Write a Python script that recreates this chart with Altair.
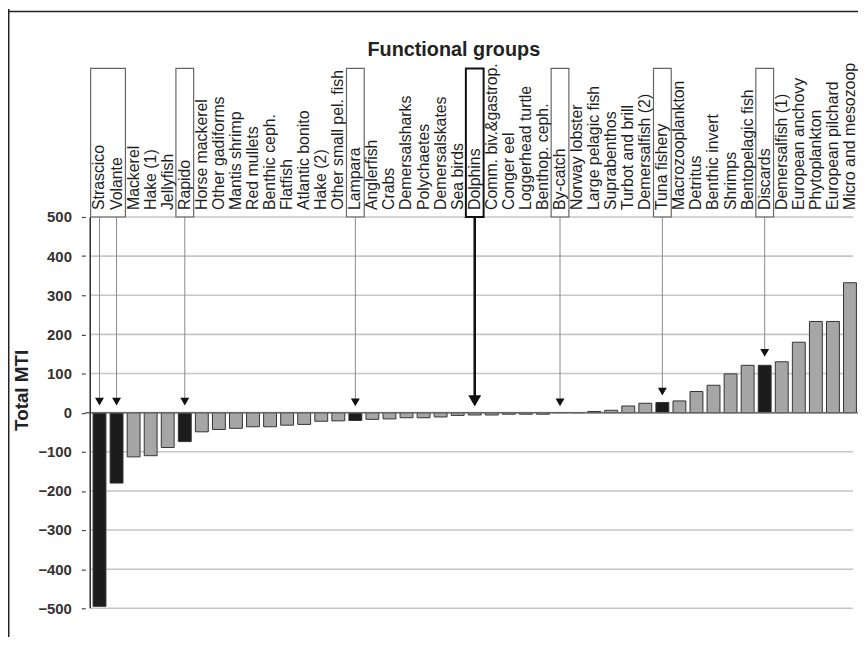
import altair as alt
import pandas as pd

groups = ["Strascico", "Volante", "Mackerel", "Hake (1)", "Jellyfish", "Rapido",
          "Horse mackerel", "Other gadiforms", "Mantis shrimp", "Red mullets",
          "Benthic ceph.", "Flatfish", "Atlantic bonito", "Hake (2)",
          "Other small pel. fish", "Lampara", "Anglerfish", "Crabs",
          "Demersalsharks", "Polychaetes", "Demersalskates", "Sea birds",
          "Dolphins", "Comm. biv.&gastrop.", "Conger eel", "Loggerhead turtle",
          "Benthop. ceph.", "By-catch", "Norway lobster", "Large pelagic fish",
          "Suprabenthos", "Turbot and brill", "Demersalfish (2)", "Tuna fishery",
          "Macrozooplankton", "Detritus", "Benthic invert", "Shrimps",
          "Bentopelagic fish", "Discards", "Demersalfish (1)", "European anchovy",
          "Phytoplankton", "European pilchard", "Micro and mesozoop"]
mti = [-495, -180, -113, -110, -89, -74, -49, -43, -40, -36, -36, -32, -30, -22,
       -21, -20, -17, -16, -13, -13, -11, -7, -6, -6, -4, -4, -4, 0, 0, 3, 6, 17,
       24, 26, 30, 54, 70, 99, 121, 121, 130, 180, 233, 233, 332]
fleets = ["Strascico", "Volante", "Rapido", "Lampara", "Tuna fishery", "Discards"]
boxes = [("Strascico", "Volante"), ("Rapido", "Rapido"), ("Lampara", "Lampara"),
         ("Dolphins", "Dolphins"), ("By-catch", "By-catch"),
         ("Tuna fishery", "Tuna fishery"), ("Discards", "Discards")]
bold_box = "Dolphins"
arrows = ["Strascico", "Volante", "Rapido", "Lampara", "Dolphins", "By-catch",
          "Tuna fishery", "Discards"]
arrow_tip = [28, 28, 28, 26, 30, 26, 54, 153]
y_ticks = [-500, -400, -300, -200, -100, 0, 100, 200, 300, 400, 500]

X_MIN, X_MAX = 0.456, 45.18
idx = {g: i + 1 for i, g in enumerate(groups)}
df = pd.DataFrame({"group": groups, "idx": [idx[g] for g in groups], "mti": mti,
                   "kind": ["fleet" if g in fleets else "group" for g in groups]})
box_df = pd.DataFrame({
    "x0": [idx[a] - 0.52 for a, b in boxes],
    "x1": [idx[b] + 0.52 for a, b in boxes],
    "w": [2.0 if a == bold_box else 1.2 for a, b in boxes],
    "c": ["#111111" if a == bold_box else "#666666" for a, b in boxes],
})
arr_df = pd.DataFrame({"idx": [idx[g] for g in arrows],
                       "w": [2.6 if g == bold_box else 1.0 for g in arrows],
                       "c": ["#111111" if g == bold_box else "#8a8a8a" for g in arrows],
                       "s": [170 if g == bold_box else 81 for g in arrows],
                       "top": 500, "tip": arrow_tip})
zero_df = pd.DataFrame({"z": [0]})
# thin bands for the gridlines (half-thickness ~0.9 px in data units)
grid_df = pd.DataFrame({"t": y_ticks})
grid_df["lo"] = grid_df["t"] - 2.0
grid_df["hi"] = grid_df["t"] + 2.0
grid_df["xa"] = X_MIN
grid_df["xb"] = X_MAX
axis_df = pd.DataFrame({"y0": [min(y_ticks)], "y1": [max(y_ticks)],
                        "xa": [X_MIN - 0.045], "xb": [X_MIN + 0.045]})

FONT = "Liberation Sans"
xs = alt.Scale(domain=[X_MIN, X_MAX], nice=False, zero=False)
ys = alt.Scale(domain=[-500, 500], nice=False)
X = alt.X("idx:Q", scale=xs, axis=None)
YAX = alt.Axis(values=y_ticks, grid=False, domain=False,
               tickSize=4, tickColor="#444", tickWidth=1.2,
               labelFont=FONT, labelFontSize=15, labelFontWeight="bold",
               labelColor="#333", labelPadding=10, title=None)

grid = alt.Chart(grid_df).mark_rect(color="#c6c6c6").encode(
    x=alt.X("xa:Q", scale=xs, axis=None),
    x2="xb:Q",
    y=alt.Y("lo:Q", scale=ys, axis=YAX),
    y2="hi:Q",
)

bars = alt.Chart(df).mark_bar(size=13, clip=True, orient="vertical").encode(
    x=X,
    y=alt.Y("mti:Q", scale=ys, axis=YAX),
    color=alt.Color("kind:N", scale=alt.Scale(domain=["fleet", "group"],
                                              range=["#1c1c1c", "#a6a6a6"]),
                    legend=None),
    stroke=alt.value("#333"),
    strokeWidth=alt.value(1),
)

zero = alt.Chart(zero_df).mark_rule(color="#666", strokeWidth=1.5).encode(
    y=alt.Y("z:Q", scale=ys, axis=YAX))

yline = alt.Chart(axis_df).mark_rect(color="#333").encode(
    x=alt.X("xa:Q", scale=xs, axis=None),
    x2="xb:Q",
    y=alt.Y("y0:Q", scale=ys, axis=YAX),
    y2="y1:Q",
)

arrow_lines = alt.Chart(arr_df).mark_rule().encode(
    x=X,
    y=alt.Y("top:Q", scale=ys, axis=YAX),
    y2="tip:Q",
    stroke=alt.Stroke("c:N", scale=None, legend=None),
    strokeWidth=alt.StrokeWidth("w:Q", scale=None, legend=None),
)
heads = alt.Chart(arr_df).mark_point(shape="triangle-down", filled=True,
                                     opacity=1, color="#111").encode(
    x=X,
    y=alt.Y("tip:Q", scale=ys, axis=YAX),
    size=alt.Size("s:Q", scale=None, legend=None),
)

box_marks = alt.Chart(box_df).mark_rect(fill="transparent").encode(
    x=alt.X("x0:Q", scale=xs, axis=None),
    x2="x1:Q",
    y=alt.value(-150),
    y2=alt.value(0),
    stroke=alt.Stroke("c:N", scale=None, legend=None),
    strokeWidth=alt.StrokeWidth("w:Q", scale=None, legend=None),
)

labels = alt.Chart(df).mark_text(angle=270, align="left", baseline="middle",
                                 font=FONT, fontSize=16, color="#1e1e1e").encode(
    x=X, y=alt.value(-7), text="group:N")

title_top = alt.Chart(zero_df).mark_text(
    font=FONT, fontSize=20, fontWeight="bold", color="#222", align="center",
    baseline="middle", text="Functional groups").encode(
    x=alt.value(372), y=alt.value(-169))

title_y = alt.Chart(zero_df).mark_text(
    font=FONT, fontSize=19, fontWeight="bold", color="#222", angle=270,
    align="center", baseline="middle", text="Total MTI").encode(
    x=alt.value(-64), y=alt.value(175))

border_top = alt.Chart(zero_df).mark_rule(color="#222", strokeWidth=1.6).encode(
    x=alt.value(-78), x2=alt.value(800), y=alt.value(-207.5))
border_left = alt.Chart(zero_df).mark_rule(color="#222", strokeWidth=1.6).encode(
    x=alt.value(-77.3), y=alt.value(-210), y2=alt.value(430))

chart = alt.layer(
    grid, bars, zero, yline, arrow_lines, heads, box_marks, labels, title_top,
    title_y, border_top, border_left
).properties(
    width=780, height=395,
    autosize=alt.AutoSizeParams(type="none"),
    padding={"left": 78, "top": 208, "right": 0, "bottom": 26},
    background="white",
).configure_view(stroke=None)

chart.save("out.html", embed_options={"renderer": "svg", "actions": False})
